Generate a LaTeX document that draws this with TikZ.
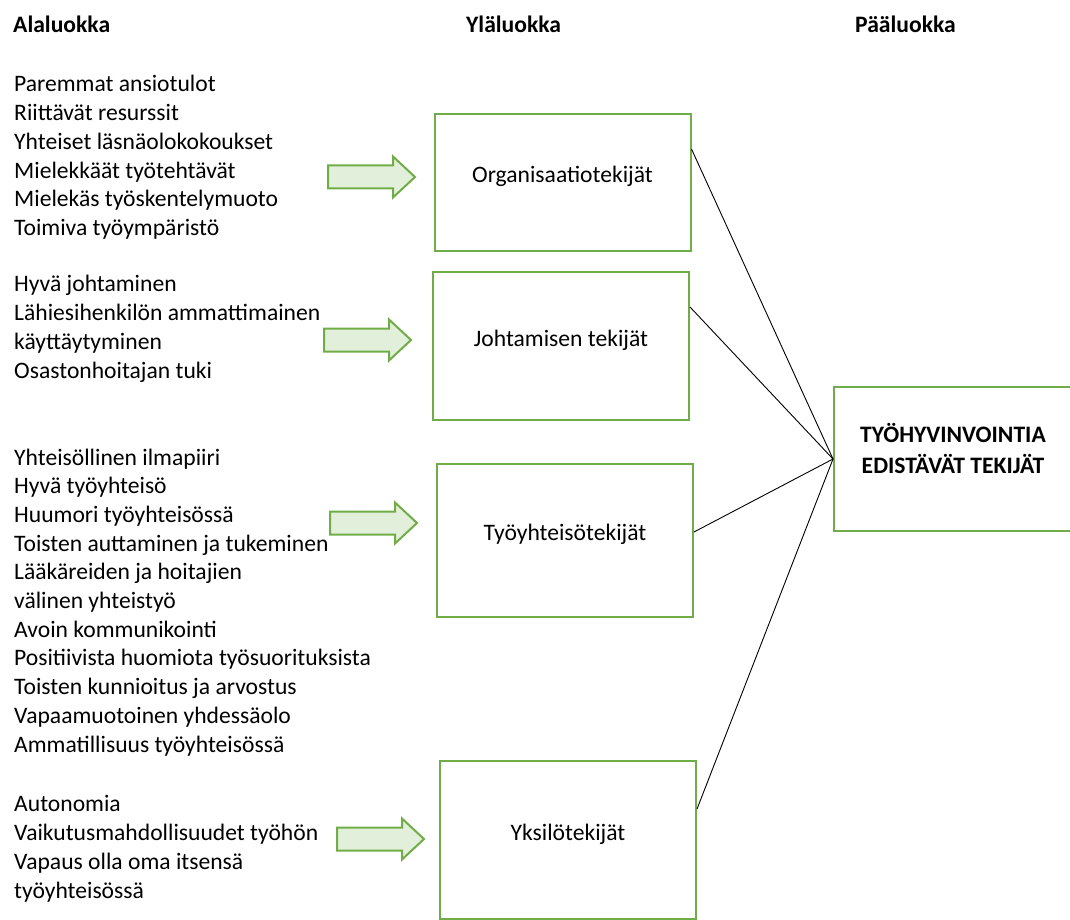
\documentclass[tikz,border=0pt]{standalone}
\usepackage{fontspec}
\setmainfont{Carlito}
\usetikzlibrary{positioning,calc}
\definecolor{boxgreen}{HTML}{70AD47}
\definecolor{arrowfill}{HTML}{E2EFDA}
\tikzset{every node/.style={font=\fontsize{23.6}{28.7}\selectfont},
  colhead/.style={font=\fontsize{23.6}{28.7}\selectfont\bfseries,anchor=base west,inner sep=0},
  itemlist/.style={align=left,anchor=base west,inner sep=0},
  catbox/.style={draw=boxgreen,line width=2pt,minimum width=256,text height=0pt,text depth=0pt},
  goalbox/.style={draw=boxgreen,line width=2pt,align=center,text depth=21pt,font=\fontsize{23.6}{30.5}\selectfont\bfseries},
  blockarrow/.style={draw=boxgreen,fill=arrowfill,line width=2pt,line join=miter},
  link/.style={draw=black,line width=.9pt}}
% fat arrow: left end x, middle y
\newcommand{\fatarrow}[2]{\draw[blockarrow]({#1},{#2-11.5})--({#1+65},{#2-11.5})--({#1+65},{#2-20.5})
  --({#1+87},{#2})--({#1+65},{#2+20.5})--({#1+65},{#2+11.5})--({#1},{#2+11.5})--cycle;}
\begin{document}
\begin{tikzpicture}[x=1pt,y=-1pt]
\useasboundingbox(0,0)rectangle(1070,920);
\node[colhead](alahead)at(13,33){Alaluokka};
\node[colhead](ylahead)at(466,33){Yläluokka};
\node[colhead](paahead)at(855,33){Pääluokka};
% lists sit on the baseline of their last line
\node[itemlist](orglist)at(14,235.5){Paremmat ansiotulot\\Riittävät resurssit\\Yhteiset läsnäolokokoukset\\Mielekkäät työtehtävät\\Mielekäs työskentelymuoto\\Toimiva työympäristö};
\node[itemlist](johlist)at(14,378){Hyvä johtaminen\\Lähiesihenkilön ammattimainen\\käyttäytyminen\\Osastonhoitajan tuki};
\node[itemlist](yhtlist)at(14,752){Yhteisöllinen ilmapiiri\\Hyvä työyhteisö\\Huumori työyhteisössä\\Toisten auttaminen ja tukeminen\\Lääkäreiden ja hoitajien\\välinen yhteistyö\\Avoin kommunikointi\\Positiivista huomiota työsuorituksista\\Toisten kunnioitus ja arvostus\\Vapaamuotoinen yhdessäolo\\Ammatillisuus työyhteisössä};
\node[itemlist](ykslist)at(14,898){Autonomia\\Vaikutusmahdollisuudet työhön\\Vapaus olla oma itsensä\\työyhteisössä};
\node[catbox,minimum height=137](org)at(562.5,182.5){Organisaatiotekijät};
\node[catbox,minimum height=148](joh)at(561,346){Johtamisen tekijät};
\node[catbox,minimum height=153](yht)at(565,540.5){Työyhteisötekijät};
\node[catbox,minimum height=158](yks)at(568,840){Yksilötekijät};
\node[goalbox,minimum width=238,minimum height=144](goal)at(953,459){TYÖHYVINVOINTIA\\EDISTÄVÄT TEKIJÄT};
\fatarrow{328}{177}\fatarrow{324}{340}\fatarrow{330}{523}\fatarrow{337}{839}
\draw[link](org.north east)++(0,36)--(goal.west);
\draw[link](joh.north east)++(0,36)--(goal.west);
\draw[link](yht.north east)++(0,69)--(goal.west);
\draw[link](yks.north east)++(0,49)--(goal.west);
\end{tikzpicture}
\end{document}
